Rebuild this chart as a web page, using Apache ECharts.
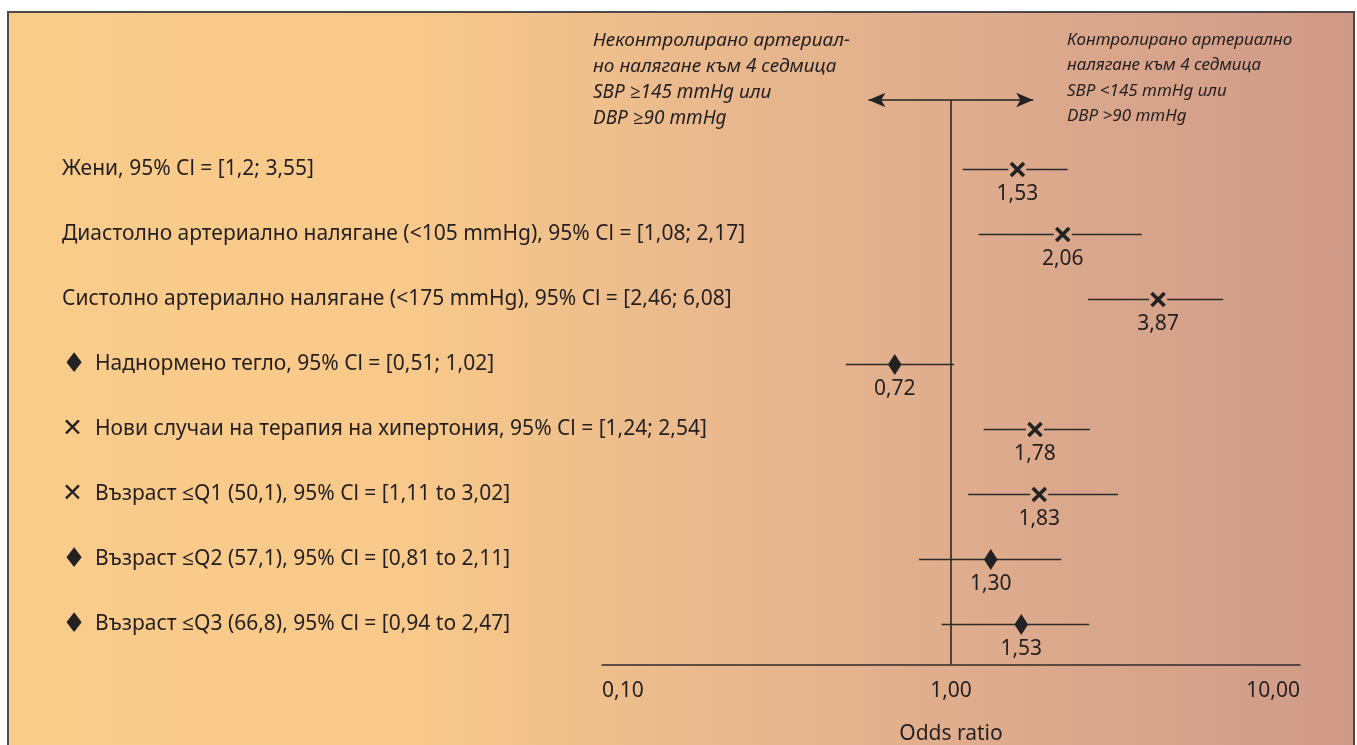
<!DOCTYPE html>
<html>
<head>
<meta charset="utf-8">
<script src="https://cdn.jsdelivr.net/npm/echarts@6/dist/echarts.min.js"></script>
<style>
  html, body { margin: 0; padding: 0; background: #ffffff; overflow: hidden; }
  #frame {
    position: absolute; left: 7px; top: 11px; width: 1344px; height: 800px;
    border: 2px solid #4b4b4b;
    background: linear-gradient(to right, #facc8a 0%, #f8c98a 30%, #ebba8d 50%, #ddaa8d 75%, #d09a88 100%);
  }
  #chart { position: absolute; left: 0; top: 0; width: 1357px; height: 745px; }
</style>
</head>
<body>
<div id="frame"></div>
<div id="chart"></div>
<script>
// ---- data ----
const categories = [
  'Жени, 95% Cl = [1,2; 3,55]',
  'Диастолно артериално налягане (<105 mmHg), 95% Cl = [1,08; 2,17]',
  'Систолно артериално налягане (<175 mmHg), 95% Cl = [2,46; 6,08]',
  'Наднормено тегло, 95% Cl = [0,51; 1,02]',
  'Нови случаи на терапия на хипертония, 95% Cl = [1,24; 2,54]',
  'Възраст ≤Q1 (50,1), 95% Cl = [1,11 to 3,02]',
  'Възраст ≤Q2 (57,1), 95% Cl = [0,81 to 2,11]',
  'Възраст ≤Q3 (66,8), 95% Cl = [0,94 to 2,47]'
];
const labelMarkers = ['', '', '', 'diamond', 'cross', 'cross', 'diamond', 'diamond'];
const markerTypes  = ['cross', 'cross', 'cross', 'diamond', 'cross', 'cross', 'diamond', 'diamond'];
const oddsRatio    = [1.55, 2.09, 3.92, 0.69, 1.74, 1.79, 1.30, 1.59];
const ciLow        = [1.08, 1.20, 2.47, 0.50, 1.24, 1.12, 0.81, 0.94];
const ciHigh       = [2.16, 3.52, 6.02, 1.02, 2.50, 3.01, 2.07, 2.49];
const valueLabels  = ['1,53', '2,06', '3,87', '0,72', '1,78', '1,83', '1,30', '1,53'];
const referenceOR  = 1;
const arrowSpan    = [0.58, 1.72];
const axisMin = 0.1, axisMax = 10;
const leftNote  = 'Неконтролирано артериал-\nно налягане към 4 седмица\nSBP ≥145 mmHg или\nDBP ≥90 mmHg';
const rightNote = 'Контролирано артериално\nналягане към 4 седмица\nSBP <145 mmHg или\nDBP >90 mmHg';

const TXT = '#231f20';
const FONT = '"Noto Sans", "Open Sans", sans-serif';

const seriesData = categories.map((c, i) => [ciLow[i], ciHigh[i], oddsRatio[i], i]);

function renderItem(params, api) {
  const i = params.dataIndex;
  const lo = api.coord([api.value(0), api.value(3)]);
  const hi = api.coord([api.value(1), api.value(3)]);
  const p  = api.coord([api.value(2), api.value(3)]);
  const y = p[1];
  const lineStyle = { stroke: '#2b2b2b', lineWidth: 1.5 };
  const children = [];
  if (markerTypes[i] === 'cross') {
    const g = 9;
    children.push({ type: 'line', shape: { x1: lo[0], y1: y, x2: p[0] - g, y2: y }, style: lineStyle });
    children.push({ type: 'line', shape: { x1: p[0] + g, y1: y, x2: hi[0], y2: y }, style: lineStyle });
    const s = 6.5;
    const cs = { stroke: '#222', lineWidth: 3.6 };
    children.push({ type: 'line', shape: { x1: p[0] - s, y1: y - s, x2: p[0] + s, y2: y + s }, style: cs });
    children.push({ type: 'line', shape: { x1: p[0] - s, y1: y + s, x2: p[0] + s, y2: y - s }, style: cs });
  } else {
    children.push({ type: 'line', shape: { x1: lo[0], y1: y, x2: hi[0], y2: y }, style: lineStyle });
    children.push({ type: 'polygon', shape: { points: [[p[0], y - 10.5], [p[0] + 6.8, y], [p[0], y + 10.5], [p[0] - 6.8, y]] }, style: { fill: '#222' } });
  }
  children.push({
    type: 'text', x: p[0], y: y + 25,
    style: { text: valueLabels[i], fill: TXT, font: '21px ' + FONT, align: 'center', verticalAlign: 'middle' }
  });
  return { type: 'group', children };
}

const chart = echarts.init(document.getElementById('chart'), null, { renderer: 'canvas' });
chart.setOption({
  animation: false,
  backgroundColor: 'transparent',
  textStyle: { fontFamily: FONT },
  grid: [
    { left: 602, right: 57, top: 137, height: 520, outerBoundsMode: 'none', containLabel: false },
    { left: 602, right: 57, top: 100, bottom: 80, outerBoundsMode: 'none', containLabel: false }
  ],
  xAxis: [
    { type: 'log', gridIndex: 0, min: axisMin, max: axisMax, logBase: 10, show: false },
    {
      type: 'log', gridIndex: 1, min: axisMin, max: axisMax, logBase: 10,
      axisLine: { onZero: false, lineStyle: { color: '#2b2b2b', width: 1.5 } },
      axisTick: { show: false },
      splitLine: { show: false },
      axisLabel: {
        color: TXT, fontSize: 21, margin: 16,
        alignMinLabel: 'left', alignMaxLabel: 'right',
        formatter: v => Number(v).toFixed(2).replace('.', ',')
      },
      name: 'Odds ratio', nameLocation: 'middle', nameGap: 59,
      nameTextStyle: { color: TXT, fontSize: 21 }
    }
  ],
  yAxis: [
    {
      type: 'category', gridIndex: 0, inverse: true, data: categories,
      axisLine: { show: false }, axisTick: { show: false }, splitLine: { show: false },
      axisLabel: {
        margin: 540, align: 'left', color: TXT, fontSize: 21,
        formatter: (v, i) => {
          const m = labelMarkers[i];
          if (m === 'diamond') return '{d|♦}{t|' + v + '}';
          if (m === 'cross') return '{c|✕}{t|' + v + '}';
          return '{t|' + v + '}';
        },
        rich: {
          t: { color: TXT, fontSize: 21, fontFamily: FONT },
          d: { color: '#222', fontSize: 27, fontFamily: 'DejaVu Sans', width: 33, align: 'left' },
          c: { color: '#222', fontSize: 25, fontWeight: 'bold', fontFamily: 'DejaVu Sans', width: 33, align: 'left' }
        }
      }
    },
    { type: 'value', gridIndex: 1, min: 0, max: 1, inverse: true, show: false }
  ],
  series: [
    {
      type: 'custom', xAxisIndex: 0, yAxisIndex: 0,
      renderItem: renderItem,
      encode: { x: [0, 1, 2], y: 3 },
      data: seriesData,
      z: 5
    },
    {
      type: 'line', xAxisIndex: 1, yAxisIndex: 1, data: [],
      markLine: {
        silent: true,
        label: { show: false },
        symbol: ['none', 'none'],
        lineStyle: { color: '#4d4440', width: 2, type: 'solid' },
        data: [
          { xAxis: referenceOR },
          [
            { coord: [arrowSpan[0], 0], symbol: 'arrow', symbolSize: [11, 17], lineStyle: { color: '#222', width: 1.5, type: 'solid' } },
            { coord: [arrowSpan[1], 0], symbol: 'arrow', symbolSize: [11, 17] }
          ]
        ]
      }
    }
  ],
  graphic: [
    {
      type: 'text', left: 593, top: 28,
      style: { text: leftNote, fill: TXT, font: 'italic 19px ' + FONT, lineHeight: 26 }
    },
    {
      type: 'text', left: 1067, top: 27,
      style: { text: rightNote, fill: TXT, font: 'italic 17px ' + FONT, lineHeight: 25.5 }
    }
  ]
});
</script>
</body>
</html>
